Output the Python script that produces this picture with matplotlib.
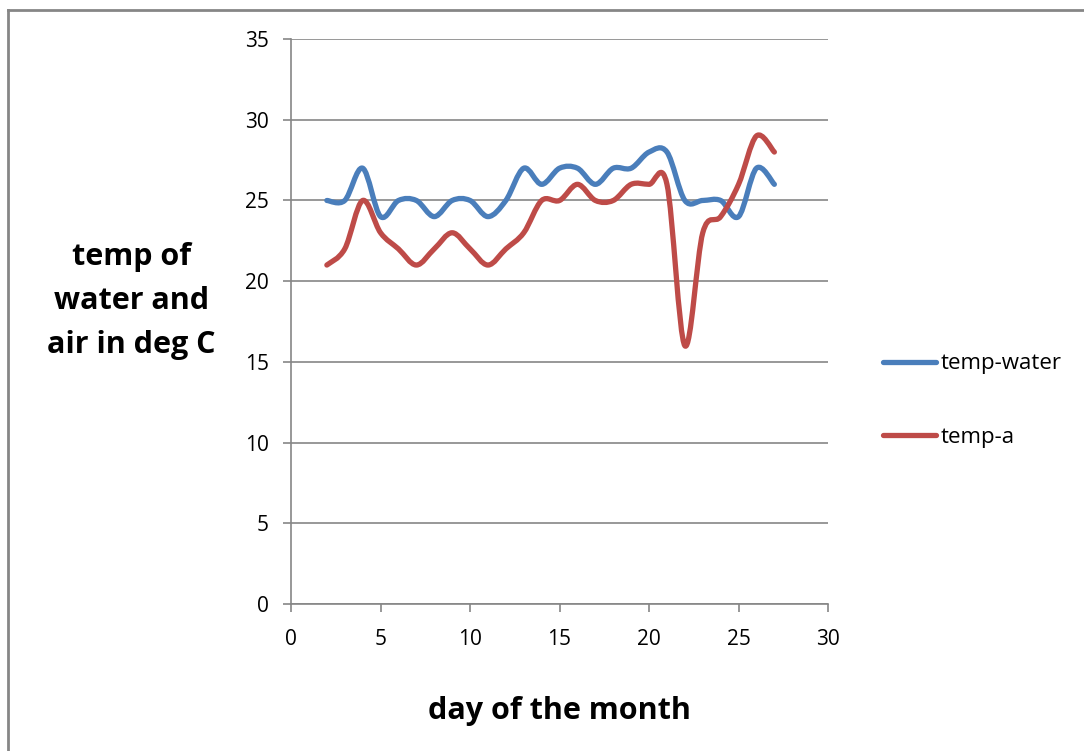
import matplotlib
matplotlib.use('Agg')
import matplotlib.pyplot as plt
from matplotlib.path import Path
from matplotlib.patches import PathPatch
from matplotlib.lines import Line2D

plt.rcParams['font.family'] = ['Open Sans', 'DejaVu Sans']

days = [2, 3, 4, 5, 6, 7, 8, 9, 10, 11, 12, 13, 14, 15, 16, 17, 18, 19, 20,
        21, 22, 23, 24, 25, 26, 27]
temp_water = [25, 25, 27, 24, 25, 25, 24, 25, 25, 24, 25, 27, 26, 27, 27, 26,
              27, 27, 28, 28, 25, 25, 25, 24, 27, 26]
temp_air = [21, 22, 25, 23, 22, 21, 22, 23, 22, 21, 22, 23, 25, 25, 26, 25,
            25, 26, 26, 26, 16, 23, 24, 26, 29, 28]

blue = '#4a7ebb'
red = '#be4b48'
grey = '#868686'


def smooth_path(xs, ys):
    # Excel-style smoothed line: cubic bezier segments through every point
    pts = list(zip(xs, ys))
    verts = [pts[0]]
    codes = [Path.MOVETO]
    n = len(pts)
    for i in range(n - 1):
        p0 = pts[max(i - 1, 0)]
        p1 = pts[i]
        p2 = pts[i + 1]
        p3 = pts[min(i + 2, n - 1)]
        c1 = (p1[0] + (p2[0] - p0[0]) / 6, p1[1] + (p2[1] - p0[1]) / 6)
        c2 = (p2[0] - (p3[0] - p1[0]) / 6, p2[1] - (p3[1] - p1[1]) / 6)
        verts += [c1, c2, p2]
        codes += [Path.CURVE4] * 3
    return Path(verts, codes)


fig = plt.figure(figsize=(10.84, 7.51), dpi=100)
ax = fig.add_axes([0.2685, 0.1957, 0.4954, 0.7523])

for ys, c in [(temp_water, blue), (temp_air, red)]:
    ax.add_patch(PathPatch(smooth_path(days, ys), facecolor='none',
                           edgecolor=c, lw=3.8, capstyle='round',
                           joinstyle='round', zorder=3))

ax.set_xlim(0, 30)
ax.set_ylim(0, 35)
ax.set_xticks(range(0, 31, 5))
ax.set_yticks(range(0, 36, 5))
ax.grid(axis='y', color=grey, lw=1.2)
ax.set_axisbelow(True)
for s in ['top', 'right']:
    ax.spines[s].set_visible(False)
for s in ['left', 'bottom']:
    ax.spines[s].set_color(grey)
    ax.spines[s].set_linewidth(1.2)
ax.tick_params(colors=grey, length=6, width=1.2, labelsize=15,
               labelcolor='black', pad=12)
ax.tick_params(axis='y', pad=10)

ax.set_xlabel('day of the month', fontsize=22, fontweight='bold', labelpad=33)
fig.text(0.121, 0.599, 'temp of\nwater and\nair in deg C', fontsize=22,
         fontweight='bold', ha='center', va='center', multialignment='center',
         linespacing=1.6)

handles = [Line2D([], [], color=blue, lw=3.8, solid_capstyle='round'),
           Line2D([], [], color=red, lw=3.8, solid_capstyle='round')]
fig.legend(handles, ['temp-water', 'temp-a'], loc='upper left',
           bbox_to_anchor=(0.796, 0.556), frameon=False, fontsize=16,
           handlelength=2.4, handletextpad=0.2, labelspacing=2.35)

# cropped outer chart frame
fig.add_artist(Line2D([8 / 1084, 1], [1 - 10 / 751, 1 - 10 / 751],
                      color=grey, lw=2, transform=fig.transFigure))
fig.add_artist(Line2D([8 / 1084, 8 / 1084], [0, 1 - 10 / 751],
                      color=grey, lw=2, transform=fig.transFigure))

fig.savefig('out.png', dpi=100)
